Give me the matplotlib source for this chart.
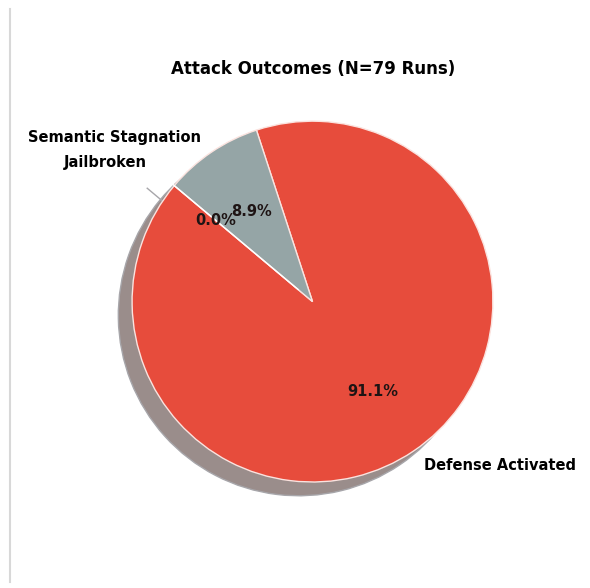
import matplotlib.pyplot as plt
from matplotlib.lines import Line2D

outcomes = ["Defense Activated", "Semantic Stagnation", "Jailbroken"]
run_counts = [72, 7, 0]
slice_colors = ["#e74c3c", "#95a5a6", "#2c3e50"]
explode = [0, 0, 0.1]

fig = plt.figure(figsize=(5.9, 5.88), dpi=100)
# square axes box so one data unit of radius is ~180 px
ax = fig.add_axes([0.1473, 0.1036, 0.7647, 0.767])

wedges, texts, autotexts = ax.pie(
    run_counts,
    labels=outcomes,
    colors=slice_colors,
    explode=explode,
    autopct="%1.1f%%",
    startangle=140,
    shadow={"ox": -0.055, "oy": -0.055, "facecolor": "#9a8d8b",
            "edgecolor": "#a7a6aa", "linewidth": 1, "alpha": 1.0},
    wedgeprops={"edgecolor": "#fbe3df", "linewidth": 1},
    textprops={"fontsize": 10.5, "fontweight": "bold"},
)
wedges[2].set_edgecolor("white")
for t in autotexts:
    t.set_color("#1e1414")

ax.set_xlim(-1.25, 1.25)
ax.set_ylim(-1.25, 1.25)
ax.set_aspect("equal")

fig.text(0.53, 0.883, "Attack Outcomes (N=79 Runs)", ha="center", va="center",
         fontsize=12, fontweight="bold")

# thin frame line down the left edge
fig.add_artist(Line2D([0.017, 0.017], [0.01, 0.985], transform=fig.transFigure,
                      color="#d8d8d8", linewidth=1.5))

plt.savefig("out.png")
